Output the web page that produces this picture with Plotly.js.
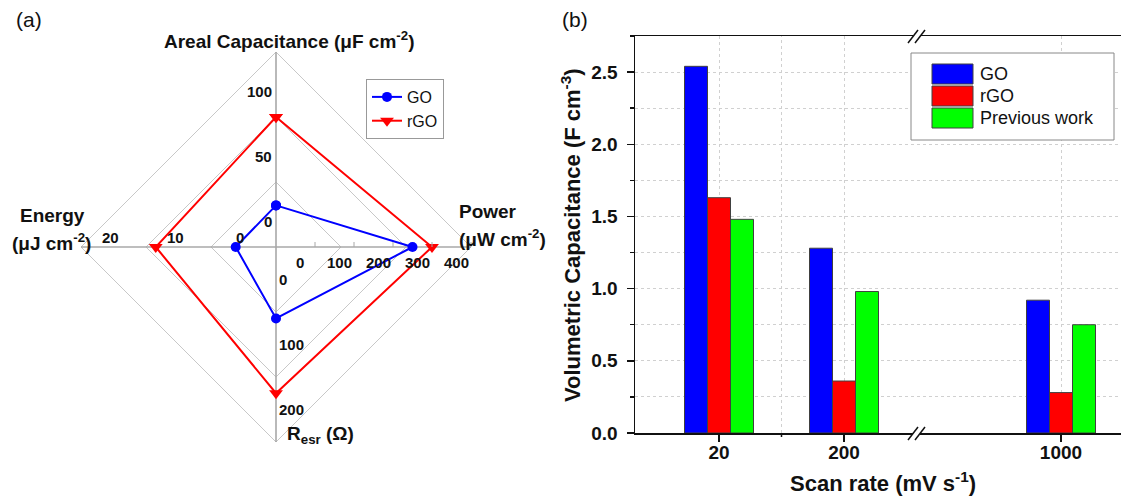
<!DOCTYPE html>
<html><head><meta charset="utf-8">
<script src="https://cdn.plot.ly/plotly-3.0.1.min.js"></script>
<style>html,body{margin:0;padding:0;overflow:hidden;background:#fff}#chart{width:1130px;height:496px}</style>
</head><body><div id="chart"></div>
<script>
// ---------- Panel (a) data: radar ----------
const radarAxes = ["Areal Capacitance", "Power", "R_esr", "Energy"];
const goRadar = [12, 250, 60, 0.7];
const rgoRadar = [80, 300, 175, 13];
const arealTicks = [0, 50, 100];
const powerTicks = [0, 100, 200, 300, 400];
const resrTicks = [0, 100, 200];
const energyTicks = [0, 10, 20];

// ---------- Panel (b) data: bars ----------
const scanRates = ["20", "200", "1000"];
const goBars = [2.54, 1.28, 0.92];
const rgoBars = [1.63, 0.36, 0.28];
const prevBars = [1.48, 0.98, 0.75];
const barNames = ["GO", "rGO", "Previous work"];

// ---------- geometry / style ----------
const W = 1130, H = 496;
const FONT = "Liberation Sans, Arial, sans-serif";
const px = x => x / W, py = y => 1 - y / H;
// radar axes: direction and value at centre / outer diamond
const axisDefs = [
  {dir: [0, 1],  min: -20,  max: 130},
  {dir: [1, 0],  min: -100, max: 400},
  {dir: [0, -1], min: -50,  max: 250},
  {dir: [-1, 0], min: -5.5, max: 24.5}
];
function rad(i, v) {
  const a = axisDefs[i], r = (v - a.min) / (a.max - a.min);
  return [a.dir[0] * r, a.dir[1] * r];
}
const RPX = 195, CX = 276, CY = 247;   // outer radius & centre in px
const radarX = [-CX / RPX, (560 - CX) / RPX];
const radarY = [-(H - CY) / RPX, CY / RPX];

const traces = [];
// grid diamonds
[1/3, 2/3, 1].forEach(f => {
  traces.push({x: [0, f, 0, -f, 0], y: [f, 0, -f, 0, f], mode: 'lines', xaxis: 'x', yaxis: 'y',
    line: {color: '#c8c8c8', width: 1}, hoverinfo: 'skip', showlegend: false});
});
traces.push({x: [-1, 1], y: [0, 0], mode: 'lines', line: {color: '#a8a8a8', width: 1.6}, hoverinfo: 'skip', showlegend: false});
traces.push({x: [0, 0], y: [-1, 1], mode: 'lines', line: {color: '#a8a8a8', width: 1.6}, hoverinfo: 'skip', showlegend: false});

function radarTrace(vals, name, color, symbol, size) {
  const pts = vals.map((v, i) => rad(i, v));
  pts.push(pts[0]);
  return {x: pts.map(p => p[0]), y: pts.map(p => p[1]), mode: 'lines+markers', name: name,
    xaxis: 'x', yaxis: 'y', line: {color: color, width: 2},
    marker: {color: color, symbol: symbol, size: size}, legend: 'legend'};
}
traces.push(radarTrace(goRadar, 'GO', '#0000ff', 'circle', 10));
traces.push(radarTrace(rgoRadar, 'rGO', '#ff0000', 'triangle-down', 12));

// bars (broken axis: x2 for 20/200, x3 for 1000)
const barCols = ['#0000ff', '#ff0000', '#00ff00'];
[goBars, rgoBars, prevBars].forEach((vals, k) => {
  traces.push({type: 'bar', x: scanRates.slice(0, 2), y: vals.slice(0, 2), xaxis: 'x2', yaxis: 'y2',
    name: barNames[k], marker: {color: barCols[k], line: {color: '#404040', width: 1}}, showlegend: false});
  traces.push({type: 'bar', x: scanRates.slice(2), y: vals.slice(2), xaxis: 'x3', yaxis: 'y2',
    name: barNames[k], marker: {color: barCols[k], line: {color: '#404040', width: 1}}, showlegend: false});
});

const annotations = [];
const tickFont = {family: FONT, size: 15, color: '#111', weight: 'bold'};
function tickAnn(i, v, opts) {
  const p = rad(i, v);
  annotations.push(Object.assign({x: p[0], y: p[1], xref: 'x', yref: 'y', text: String(v), showarrow: false, font: tickFont}, opts));
}
arealTicks.forEach(v => tickAnn(0, v, {xanchor: 'right', yanchor: 'middle', xshift: -2}));
powerTicks.forEach(v => tickAnn(1, v, {xanchor: 'center', yanchor: 'top', xshift: -15, yshift: -5}));
resrTicks.forEach(v => tickAnn(2, v, {xanchor: 'left', yanchor: 'middle', xshift: 1}));
energyTicks.forEach(v => tickAnn(3, v, {xanchor: 'center', yanchor: 'bottom', yshift: -1}));

const titleFont = {family: FONT, size: 19, color: '#111', weight: 'bold'};
function pann(text, x, y, font, extra) {
  annotations.push(Object.assign({text: text, x: px(x), y: py(y), xref: 'paper', yref: 'paper',
    xanchor: 'center', yanchor: 'middle', showarrow: false, font: font}, extra || {}));
}
pann('Areal Capacitance (\u03bcF cm<sup>-2</sup>)', 289, 40, titleFont);
pann('Energy', 52, 215, titleFont);
pann('(\u03bcJ cm<sup>-2</sup>)', 51, 242, titleFont);
pann('Power', 488, 211, titleFont);
pann('(\u03bcW cm<sup>-2</sup>)', 502, 238, titleFont);
pann('R<sub>esr</sub> (\u03a9)', 320, 435, titleFont);
pann('(a)', 29, 20, {family: FONT, size: 21, color: '#111'});
pann('(b)', 575, 20, {family: FONT, size: 21, color: '#111'});
// panel (b) axis titles
const bTitle = {family: FONT, size: 22, color: '#111', weight: 'bold'};
pann('Scan rate (mV s<sup>-1</sup>)', 883, 482, bTitle);
pann('Volumetric Capacitance (F cm<sup>-3</sup>)', 571, 235, bTitle, {textangle: -90});
// panel (b) legend labels
const legY = [74, 96, 118];
barNames.forEach((n, k) => pann(n, 978, legY[k], {family: FONT, size: 18, color: '#111'}, {xanchor: 'left'}));

const shapes = [];
// power tick marks
powerTicks.forEach(v => {
  const p = rad(1, v);
  shapes.push({type: 'line', xref: 'x', yref: 'y', x0: p[0], x1: p[0], y0: 0, y1: 5 / RPX, line: {color: '#a8a8a8', width: 1}});
});
// panel (b) legend box & swatches
shapes.push({type: 'rect', xref: 'paper', yref: 'paper', x0: px(911), x1: px(1114), y0: py(53), y1: py(140),
  line: {color: '#888', width: 1}, fillcolor: 'white', layer: 'above'});
barCols.forEach((c, k) => {
  shapes.push({type: 'rect', xref: 'paper', yref: 'paper', x0: px(932), x1: px(973), y0: py(legY[k] - 10), y1: py(legY[k] + 10),
    line: {color: '#404040', width: 1}, fillcolor: c, layer: 'above'});
});
// minor tick + grid between 20 and 200
shapes.push({type: 'line', xref: 'x2', yref: 'y2 domain', x0: 0.5, x1: 0.5, y0: 0, y1: 1, line: {color: '#d0d0d0', width: 1, dash: 'dot'}, layer: 'below'});
shapes.push({type: 'line', xref: 'x2', yref: 'paper', x0: 0.5, x1: 0.5, y0: py(433), y1: py(437), line: {color: '#111', width: 1.5}});
// axis break marks
[[433], [36]].forEach(([yy]) => {
  shapes.push({type: 'rect', xref: 'paper', yref: 'paper', x0: px(913), x1: px(920), y0: py(yy - 2), y1: py(yy + 2), line: {width: 0}, fillcolor: 'white', layer: 'above'});
  shapes.push({type: 'line', xref: 'paper', yref: 'paper', x0: px(908), x1: px(918), y0: py(yy + 7), y1: py(yy - 6), line: {color: '#111', width: 1.5}, layer: 'above'});
  shapes.push({type: 'line', xref: 'paper', yref: 'paper', x0: px(915), x1: px(925), y0: py(yy + 7), y1: py(yy - 6), line: {color: '#111', width: 1.5}, layer: 'above'});
});

const PLOTL = 635, BRK = 917, PLOTR = W, YB = 433, YT = 36, CAT = 125;
const axLine = {showline: true, linecolor: '#111', linewidth: 1.5};
const bTick = {family: FONT, size: 19, color: '#111', weight: 'bold'};
const layout = {
  width: W, height: H, margin: {l: 0, r: 0, t: 0, b: 0}, paper_bgcolor: 'white', plot_bgcolor: 'rgba(0,0,0,0)',
  showlegend: true,
  legend: {x: px(366), y: py(79), xanchor: 'left', yanchor: 'top', bgcolor: 'white', bordercolor: '#999', borderwidth: 1,
    font: {family: FONT, size: 16, color: '#111'}, tracegroupgap: 0, itemwidth: 30},
  xaxis: {domain: [0, 560 / W], range: radarX, visible: false, fixedrange: true},
  yaxis: {domain: [0, 1], range: radarY, visible: false, fixedrange: true},
  xaxis2: Object.assign({domain: [px(PLOTL), px(BRK)], anchor: 'y2', type: 'category',
    range: [-(719 - PLOTL) / CAT, -(719 - PLOTL) / CAT + (BRK - PLOTL) / CAT],
    ticks: 'outside', ticklen: 7, tickwidth: 1.5, tickcolor: '#111', mirror: true,
    showgrid: true, gridcolor: '#d0d0d0', griddash: 'dot', gridwidth: 1, tickfont: bTick, ticklabelstandoff: -5}, axLine),
  xaxis3: Object.assign({domain: [px(BRK), 1], anchor: 'y2', type: 'category',
    range: [-(1061 - BRK) / CAT, -(1061 - BRK) / CAT + (PLOTR - BRK) / CAT],
    ticks: 'outside', ticklen: 7, tickwidth: 1.5, tickcolor: '#111', mirror: true,
    showgrid: true, gridcolor: '#d0d0d0', griddash: 'dot', gridwidth: 1, tickfont: bTick, ticklabelstandoff: -5}, axLine),
  yaxis2: Object.assign({domain: [py(YB), py(YT)], anchor: 'x2', range: [0, 2.75], dtick: 0.5, tickformat: '.1f',
    ticks: 'outside', ticklen: 7, tickwidth: 1.5, tickcolor: '#111', zeroline: false,
    showgrid: true, gridcolor: '#d0d0d0', griddash: 'dot', gridwidth: 1, tickfont: bTick, ticklabelstandoff: 5,
    minor: {dtick: 0.25, ticks: 'outside', ticklen: 4, tickwidth: 1.5, tickcolor: '#111', showgrid: true, gridcolor: '#d0d0d0', griddash: 'dot'}}, axLine),
  barmode: 'group', bargap: 1 - 69 / CAT, bargroupgap: 0,
  annotations: annotations, shapes: shapes
};
Plotly.newPlot('chart', traces, layout, {displayModeBar: false, staticPlot: true});
</script></body></html>
